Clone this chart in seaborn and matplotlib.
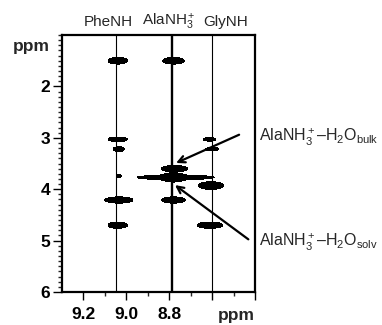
import numpy as np
import matplotlib.pyplot as plt
import matplotlib.transforms as mtransforms
import seaborn as sns
from matplotlib.ticker import FixedLocator, MultipleLocator

sns.set_theme(style="ticks")
plt.rcParams['font.family'] = ['Liberation Sans', 'DejaVu Sans']
plt.rcParams['mathtext.fontset'] = 'custom'
plt.rcParams['mathtext.rm'] = 'Liberation Sans'
plt.rcParams['mathtext.it'] = 'Liberation Sans'
plt.rcParams['mathtext.bf'] = 'Liberation Sans:bold'

# amide / ammonium proton lines (ppm, F2)
res_names = ["PheNH", r"AlaNH$_3^+$", "GlyNH"]
res_shift = [9.047, 8.786, 8.600]
res_lw = [0.8, 1.7, 0.8]

# cross peaks: F2 shift, F1 shift, half width F2, half width F1
peak_x = [9.040, 9.040, 9.035, 9.035, 9.035, 9.040,
          8.780, 8.775, 8.780, 8.770, 8.780,
          8.612, 8.600, 8.605, 8.610]
peak_y = [1.50, 3.03, 3.22, 3.74, 4.21, 4.70,
          1.50, 3.60, 3.77, 3.77, 4.21,
          3.03, 3.22, 3.93, 4.70]
peak_wx = [0.045, 0.045, 0.026, 0.012, 0.066, 0.045,
           0.050, 0.062, 0.060, 0.180, 0.055,
           0.028, 0.030, 0.058, 0.060]
peak_wy = [0.065, 0.045, 0.045, 0.030, 0.060, 0.060,
           0.065, 0.060, 0.090, 0.045, 0.060,
           0.035, 0.035, 0.075, 0.060]

x_major = [9.2, 9.0, 8.8, 8.6, 8.4]
x_labels = ["9.2", "9.0", "8.8", "", ""]
y_major = [2, 3, 4, 5, 6]

# arrows: (tail, head) in ppm
arrow_bulk = ((8.474, 2.94), (8.768, 3.49))
arrow_solv = ((8.431, 4.975), (8.773, 3.92))

# build spectrum from gaussian peaks, contour at level 1
amp = 20.0
k = np.sqrt(2 * np.log(amp))
gx = np.linspace(9.3, 8.4, 700)
gy = np.linspace(1.0, 6.0, 1400)
X, Y = np.meshgrid(gx, gy)
Z = np.zeros_like(X)
for x0, y0, wx, wy in zip(peak_x, peak_y, peak_wx, peak_wy):
    sx, sy = wx / k, wy / k
    Z += amp * np.exp(-0.5 * (((X - x0) / sx) ** 2 + ((Y - y0) / sy) ** 2))

fig = plt.figure(figsize=(3.82, 3.25), dpi=100)
ax = fig.add_axes([0.1623, 0.1015, 0.5052, 0.7908])

for xs, lw in zip(res_shift, res_lw):
    ax.axvline(xs, color='black', lw=lw, zorder=1)

ax.contourf(X, Y, Z, levels=[1, 1e6], colors='black', zorder=2)

ax.set_xlim(9.3, 8.4)
ax.set_ylim(6, 1)

ax.xaxis.set_major_locator(FixedLocator(x_major))
ax.set_xticklabels(x_labels)
ax.xaxis.set_minor_locator(FixedLocator([9.1, 8.9, 8.7, 8.5]))
ax.yaxis.set_major_locator(FixedLocator(y_major))
ax.yaxis.set_minor_locator(MultipleLocator(0.1))

ax.tick_params(axis='x', which='major', length=5.5, width=1, direction='out', pad=5,
               labelsize=12.5, colors='black')
ax.tick_params(axis='x', which='minor', length=3, width=1, direction='out')
ax.tick_params(axis='y', which='major', length=6.5, width=1, direction='out', pad=2,
               labelsize=12.5, colors='black')
ax.tick_params(axis='y', which='minor', length=3, width=1, direction='out')
for lab in ax.get_xticklabels() + ax.get_yticklabels():
    lab.set_fontweight('bold')

for sp in ax.spines.values():
    sp.set_linewidth(1.6)
    sp.set_color('black')
    sp.set_visible(True)

bx = mtransforms.blended_transform_factory(ax.transAxes, ax.transData)
by = mtransforms.blended_transform_factory(ax.transData, ax.transAxes)
ax.text(-0.062, 1.23, "ppm", transform=bx, ha='right', va='center',
        fontsize=12.5, fontweight='bold')
ax.text(8.488, -0.09, "ppm", transform=by, ha='center', va='center',
        fontsize=12.5, fontweight='bold')

# residue labels on top
for name, xl in zip(res_names, [9.085, 8.803, 8.535]):
    ax.text(xl, 1.052, name, transform=by, ha='center', va='center', fontsize=11)

for (tail, head), lab in zip([arrow_bulk, arrow_solv],
                             [r"AlaNH$_3^+$–H$_2$O$_{\rm bulk}$",
                              r"AlaNH$_3^+$–H$_2$O$_{\rm solv}$"]):
    ax.annotate("", xy=head, xytext=tail,
                arrowprops=dict(arrowstyle='->', color='black', lw=1.6,
                                mutation_scale=12, shrinkA=0, shrinkB=0),
                annotation_clip=False, zorder=4)
    ax.text(8.381, tail[1] + 0.06, lab, ha='left', va='center', fontsize=11.5,
            clip_on=False)

fig.savefig("out.png", dpi=100)
